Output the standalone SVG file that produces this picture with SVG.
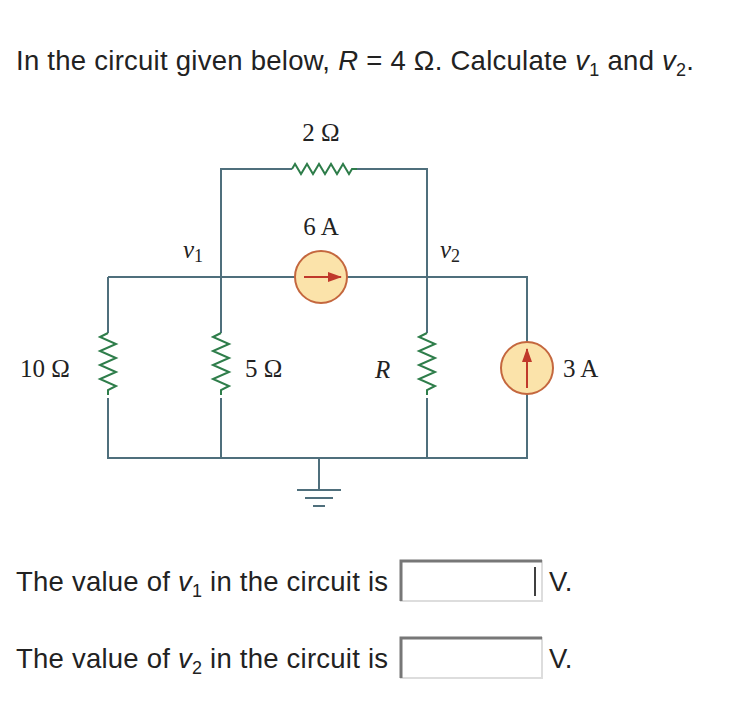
<svg xmlns="http://www.w3.org/2000/svg" width="746" height="708" viewBox="0 0 746 708">
<style>
.w{stroke:#4f6f7c;stroke-width:2;fill:none}
.r{stroke:#2e7d4a;stroke-width:2;fill:none;stroke-linejoin:miter}
.src{fill:#fbe3aa;stroke:#c4673e;stroke-width:2}
.t{font-family:"Liberation Sans",Arial,sans-serif;font-size:27.5px;fill:#222}
.s{font-family:"Liberation Serif","Times New Roman",serif;font-size:25px;fill:#222}
.box{fill:#fff;stroke:#ddd;stroke-width:2}
</style>
<defs><marker id="ah" markerWidth="14" markerHeight="10" refX="13" refY="5" orient="auto" markerUnits="userSpaceOnUse"><path d="M0,0 L14,5 L0,10 z" fill="#c0392b"/></marker></defs>
<rect width="746" height="708" fill="#fff"/>
<text class="t" x="16" y="70" textLength="678" lengthAdjust="spacing">In the circuit given below, <tspan font-style="italic">R</tspan> = 4 Ω. Calculate <tspan font-style="italic">v</tspan><tspan font-size="18" dy="6">1</tspan><tspan dy="-6"> and </tspan><tspan font-style="italic">v</tspan><tspan font-size="18" dy="6">2</tspan><tspan dy="-6">.</tspan></text>
<g id="connectors">
<path class="w" d="M221,277 V169 H292 M357,169 H427 V333 M427,398 V458 M108,277 H295 M347,277 H527 V342 M527,394 V458 H108 V398 M108,333 V277 M221,277 V333 M221,398 V458 M319,458 V490"/>
</g>
<g id="R2"><path class="r" d="M292,169 l3,-5 l6,10 l6,-10 l6,10 l6,-10 l6,10 l6,-10 l6,10 l6,-10 l6,10 l3,-5 h5"/><text class="s" x="321" y="141" text-anchor="middle">2 Ω</text></g>
<g id="R10"><path class="r" d="M108,333 l-8,4 l16,7 l-16,7 l16,7 l-16,7 l16,7 l-16,7 l16,7 l-8,4 v5"/><text class="s" x="20" y="377">10 Ω</text></g>
<g id="R5"><path class="r" d="M221,333 l-8,4 l16,7 l-16,7 l16,7 l-16,7 l16,7 l-16,7 l16,7 l-8,4 v5"/><text class="s" x="245" y="377">5 Ω</text></g>
<g id="RR"><path class="r" d="M427,333 l-8,4 l16,7 l-16,7 l16,7 l-16,7 l16,7 l-16,7 l16,7 l-8,4 v5"/><text class="s" x="375" y="378" font-style="italic" font-size="29">R</text></g>
<g id="I6"><circle class="src" cx="321" cy="277" r="26"/><line x1="304" y1="277" x2="341" y2="277" stroke="#c0392b" stroke-width="2" marker-end="url(#ah)"/><text class="s" x="321" y="235" text-anchor="middle">6 A</text></g>
<g id="I3"><circle class="src" cx="527" cy="368" r="26"/><line x1="527" y1="388" x2="527" y2="349" stroke="#c0392b" stroke-width="2" marker-end="url(#ah)"/><text class="s" x="563" y="377">3 A</text></g>
<g id="gnd"><path class="w" d="M297,490 H341 M305,498 H333 M313,506 H325"/></g>
<g id="v1"><text class="s" x="183" y="258" font-style="italic">v<tspan font-size="18" font-style="normal" dy="4">1</tspan></text></g>
<g id="v2"><text class="s" x="440" y="258" font-style="italic">v<tspan font-size="18" font-style="normal" dy="4">2</tspan></text></g>
<g id="q1"><text class="t" x="16" y="591" textLength="372" lengthAdjust="spacing">The value of <tspan font-style="italic">v</tspan><tspan font-size="18" dy="6">1</tspan><tspan dy="-6"> in the circuit is</tspan></text>
<rect class="box" x="401" y="561" width="141" height="40"/><path d="M401,601 V561 H542" stroke="#777" stroke-width="3" fill="none"/><line x1="535" y1="567" x2="535" y2="596" stroke="#000" stroke-width="1.5"/><text class="t" x="549" y="591">V.</text></g>
<g id="q2"><text class="t" x="16" y="668" textLength="372" lengthAdjust="spacing">The value of <tspan font-style="italic">v</tspan><tspan font-size="18" dy="6">2</tspan><tspan dy="-6"> in the circuit is</tspan></text>
<rect class="box" x="401" y="638" width="141" height="40"/><path d="M401,678 V638 H542" stroke="#777" stroke-width="3" fill="none"/><text class="t" x="549" y="668">V.</text></g>
</svg>
